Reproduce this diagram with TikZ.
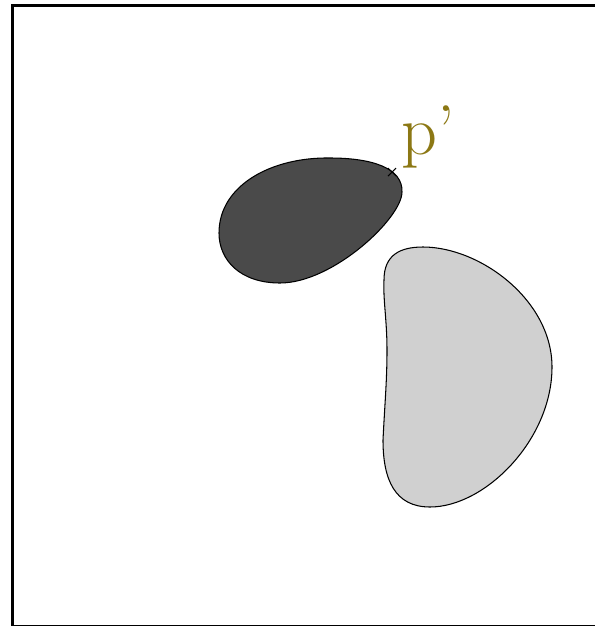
\documentclass[tikz,border=0pt]{standalone}
\usepackage{xcolor}
\usetikzlibrary{positioning, calc}
\definecolor{blobdark}{RGB}{74, 74, 74}
\definecolor{bloblight}{RGB}{208, 208, 208}
\definecolor{labelolive}{RGB}{140, 120, 20}

\begin{document}
\begin{tikzpicture}[x=0.02cm, y=-0.02cm,
        blob/.style={draw=black, line width=0.6pt},
        frame/.style={draw=black, line width=1.2pt},
        ptlabel/.style={text=labelolive, font=\fontsize{40}{40}\selectfont,
                        inner sep=2pt},
      ]
        \useasboundingbox (0,0) rectangle (595,626);
        \draw[frame] (12.5,5.5) rectangle (640,626);

        % obstacles
        \draw[blob, fill=blobdark] (219,233)
            .. controls (219,185) and (272,157) .. (330,158)
            .. controls (372,158) and (403,168) .. (402,192)
            .. controls (402,218) and (333,283) .. (280,283)
            .. controls (240,283) and (219,260) .. (219,233) -- cycle;
        \draw[blob, fill=bloblight] (423,247)
            .. controls (480,247) and (552,300) .. (552,367)
            .. controls (552,440) and (485,507) .. (430,507)
            .. controls (395,507) and (383,480) .. (383,440)
            .. controls (385,400) and (387,380) .. (387,350)
            .. controls (387,320) and (383,300) .. (384,280)
            .. controls (384,255) and (400,247) .. (423,247) -- cycle;

        % point p'
        \coordinate (pp) at (392,172);
        \draw[line width=0.6pt] ($(pp)+(-4,-4)$) -- ($(pp)+(4,4)$)
                                ($(pp)+(-4,4)$) -- ($(pp)+(4,-4)$);
        \node[ptlabel, anchor=south west, xshift=3pt] (plabel) at (pp) {p'};
      \end{tikzpicture}
\end{document}
